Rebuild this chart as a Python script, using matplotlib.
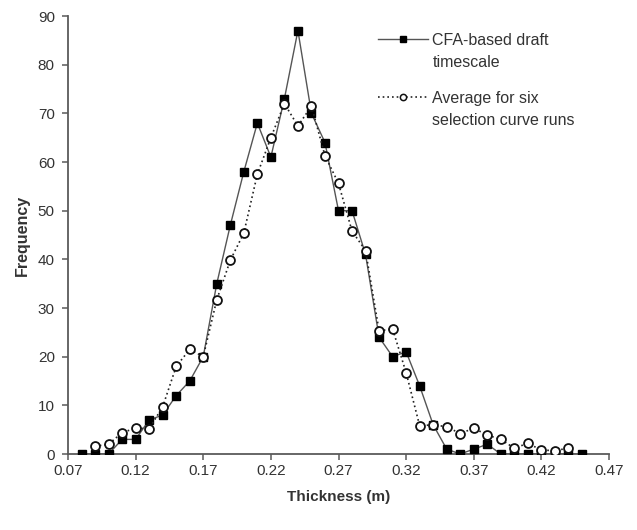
import matplotlib
matplotlib.use("Agg")
import matplotlib.pyplot as plt
from matplotlib.lines import Line2D

plt.rcParams['font.family'] = ['Liberation Sans', 'DejaVu Sans']

cfa_x = [0.08, 0.09, 0.10, 0.11, 0.12, 0.13, 0.14, 0.15, 0.16, 0.17, 0.18, 0.19,
         0.20, 0.21, 0.22, 0.23, 0.24, 0.25, 0.26, 0.27, 0.28, 0.29, 0.30, 0.31,
         0.32, 0.33, 0.34, 0.35, 0.36, 0.37, 0.38, 0.39, 0.40, 0.41, 0.42, 0.43,
         0.44, 0.45]
cfa_y = [0, 0, 0, 3, 3, 7, 8, 12, 15, 20, 35, 47,
         58, 68, 61, 73, 87, 70, 64, 50, 50, 41, 24, 20,
         21, 14, 6, 1, 0, 1, 2, 0, 0, 0, 0, 0,
         0, 0]

avg_x = [0.09, 0.10, 0.11, 0.12, 0.13, 0.14, 0.15, 0.16, 0.17, 0.18, 0.19, 0.20,
         0.21, 0.22, 0.23, 0.24, 0.25, 0.26, 0.27, 0.28, 0.29, 0.30, 0.31, 0.32,
         0.33, 0.34, 0.35, 0.36, 0.37, 0.38, 0.39, 0.40, 0.41, 0.42, 0.43, 0.44]
avg_y = [1.6, 2.0, 4.4, 5.3, 5.2, 9.7, 18, 21.5, 20, 31.7, 39.8, 45.4,
         57.5, 65, 72, 67.4, 71.5, 61.3, 55.6, 45.8, 41.8, 25.3, 25.7, 16.7,
         5.8, 6, 5.6, 4.2, 5.3, 3.9, 3.0, 1.2, 2.2, 0.8, 0.7, 1.2]

x_ticks = [0.07, 0.12, 0.17, 0.22, 0.27, 0.32, 0.37, 0.42, 0.47]
y_ticks = [0, 10, 20, 30, 40, 50, 60, 70, 80, 90]

cfa_label = ['CFA-based draft', 'timescale']
avg_label = ['Average for six', 'selection curve runs']

fig = plt.figure(figsize=(6.37, 5.30), dpi=100)
ax = fig.add_axes([68/637, 1 - 454/530, (609-68)/637, (454-16)/530])

ax.plot(cfa_x, cfa_y, color='#555555', lw=1.0, marker='s', ms=5.4,
        mfc='black', mec='black', zorder=3)
ax.plot(avg_x, avg_y, color='#222222', lw=1.2, ls=(0, (1, 1.8)), marker='o', ms=6.4,
        mfc='white', mec='#111111', mew=1.3, zorder=4)

ax.set_xlim(0.07, 0.47)
ax.set_ylim(0, 90)
ax.set_xticks(x_ticks)
ax.set_xticklabels([f"{v:.2f}" for v in x_ticks])
ax.set_yticks(y_ticks)

for s in ['top', 'right']:
    ax.spines[s].set_visible(False)
for s in ['left', 'bottom']:
    ax.spines[s].set_color('#5a5a5a')
    ax.spines[s].set_linewidth(1.3)
ax.tick_params(axis='both', direction='out', length=4.5, width=1.1, color='#5a5a5a',
               labelcolor='#333333', labelsize=11)
ax.tick_params(axis='x', pad=3)
ax.tick_params(axis='y', pad=5)

ax.set_xlabel('Thickness (m)', fontsize=11, fontweight='bold', color='#333333')
ax.xaxis.set_label_coords(0.5, -(490 - 454) / 438)
ax.xaxis.label.set_va('top')
ax.set_ylabel('Frequency', fontsize=11.5, fontweight='bold', color='#333333')
ax.yaxis.set_label_coords((22 - 68) / 541, 0.5)
ax.yaxis.label.set_va('center')

h_cfa = Line2D([], [], color='#555555', lw=1.0, marker='s', ms=4.5, mfc='black', mec='black')
h_avg = Line2D([], [], color='#222222', lw=1.2, ls=(0, (1, 1.8)), marker='o', ms=4.5,
               mfc='white', mec='#111111', mew=1.1)
h_none = Line2D([], [], color='none')

leg_kw = dict(loc='upper left', frameon=False, prop={'family': 'Liberation Sans', 'size': 11.5},
              handlelength=3.1, labelspacing=0.45, handletextpad=0.3,
              borderaxespad=0, borderpad=0, labelcolor='#333333')
leg1 = ax.legend([h_cfa, h_none], cfa_label, bbox_to_anchor=((378 - 68) / 541, (454 - 33) / 438), **leg_kw)
ax.add_artist(leg1)
leg2 = ax.legend([h_avg, h_none], avg_label, bbox_to_anchor=((378 - 68) / 541, (454 - 91) / 438), **leg_kw)

fig.savefig('out.png', dpi=100)
